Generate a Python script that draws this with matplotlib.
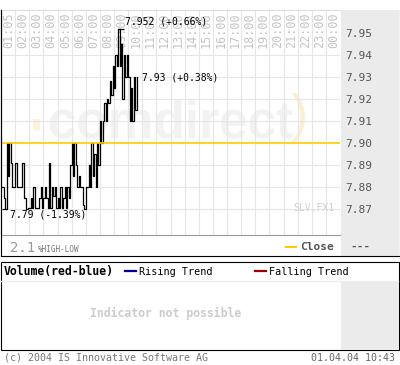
import numpy as np
import matplotlib
matplotlib.use('Agg')
import matplotlib.pyplot as plt
from matplotlib.patches import Rectangle
from matplotlib.lines import Line2D
import matplotlib.transforms as mtransforms

W, H = 400, 365
MONO = 'DejaVu Sans Mono'

# --- data ---
hour_labels = ['01:05', '02:00', '03:00', '04:00', '05:00', '06:00', '07:00', '08:00',
               '09:00', '10:00', '11:00', '12:00', '13:00', '14:00', '15:00', '16:00',
               '17:00', '18:00', '19:00', '20:00', '21:00', '22:00', '23:00', '00:00']
price_ticks = [7.87, 7.88, 7.89, 7.90, 7.91, 7.92, 7.93, 7.94, 7.95]
prev_close = 7.90

# ticks every 6 minutes from 01:05 onward (value on the drawn scale)
prices = [7.880, 7.875, 7.870, 7.900, 7.885, 7.900, 7.891, 7.880, 7.880, 7.891,
          7.880, 7.880, 7.880, 7.880, 7.891, 7.875, 7.875, 7.870, 7.8705, 7.8705,
          7.875, 7.8705, 7.880, 7.8705, 7.8705, 7.8705, 7.875, 7.880, 7.8705, 7.875,
          7.880, 7.875, 7.8705, 7.891, 7.8705, 7.880, 7.876, 7.880, 7.8705, 7.875,
          7.8705, 7.880, 7.8705, 7.875, 7.880, 7.8705, 7.880, 7.875, 7.890, 7.900,
          7.885, 7.900, 7.890, 7.880, 7.885, 7.880, 7.880, 7.872, 7.870, 7.880,
          7.880, 7.890, 7.880, 7.900, 7.885, 7.895, 7.880, 7.900, 7.890, 7.910,
          7.900, 7.910, 7.918, 7.910, 7.920, 7.918, 7.928, 7.922, 7.935, 7.925,
          7.940, 7.935, 7.952, 7.935, 7.945, 7.920, 7.940, 7.930, 7.940, 7.930,
          7.910, 7.925, 7.910, 7.930, 7.915, 7.930]
times = np.arange(1, len(prices) + 1) * 0.1  # in hour slots

high_text = '7.952 (+0.66%)'
close_text = '7.93 (+0.38%)'
low_text = '7.79 (-1.39%)'
spread_value = '2.1'
spread_name = '%HIGH-LOW'


def fx(x):
    return x / W


def fy(y):
    return 1 - y / H


fig = plt.figure(figsize=(W / 100, H / 100), dpi=100)
fig.patch.set_facecolor('white')

# grey right-hand panel of the price chart
fig.patches.append(Rectangle((fx(341), fy(256)), 58 / W, 246 / H, transform=fig.transFigure,
                             facecolor='#ebebeb', edgecolor='none', zorder=-1))

ax_top, ax_bot = 10, 235
ax = fig.add_axes([fx(1), fy(ax_bot), 339 / W, (ax_bot - ax_top) / H])
ax.set_zorder(1)
ax.set_facecolor('white')
ax.set_xlim(0, 24)
ax.set_ylim(prev_close - (ax_bot - 143) / 2200, prev_close + (143 - ax_top) / 2200)

for i in range(1, 24):
    ax.axvline(i, color='#e6e6e6', lw=0.8, zorder=1)
for v in price_ticks[:-1]:
    if v != prev_close:
        ax.axhline(v, color='#e6e6e6', lw=0.8, zorder=1)

ax.plot(times, prices, drawstyle='steps-post', color='black', lw=0.9, zorder=3)
ax.axhline(prev_close, color='#ffcc00', lw=1.2, zorder=4)

# high / low markers
i_hi = int(np.argmax(prices))
i_lo = int(np.argmin(prices))
ax.hlines(prices[i_hi], times[i_hi] - 0.05, times[i_hi] + 0.4, color='black', lw=0.9, zorder=3)
ax.hlines(prices[i_lo], times[i_lo] - 0.2, times[i_lo] + 0.15, color='black', lw=0.9, zorder=3)

ax.annotate(high_text, (times[i_hi], prices[i_hi]), xytext=(7, 7), textcoords='offset pixels',
            fontsize=7, family=MONO, va='center', ha='left', zorder=5)
ax.annotate(close_text, (times[-1], prices[-1]), xytext=(5, 0), textcoords='offset pixels',
            fontsize=7, family=MONO, va='center', ha='left', zorder=5)
ax.annotate(low_text, (times[i_lo], prices[i_lo]), xytext=(5, -5), textcoords='offset pixels',
            fontsize=7, family=MONO, va='center', ha='left', zorder=5)

# hour labels along the top
trans = mtransforms.blended_transform_factory(ax.transData, ax.transAxes)
for i, lab in enumerate(hour_labels):
    ax.text(i + 0.55, (ax_bot - 30) / (ax_bot - ax_top), lab, transform=trans, rotation=90,
            ha='center', va='center', fontsize=8.5, family=MONO, color='#c4c4c4', zorder=2)

# watermark
ax.text((48 - 1) / 339, (ax_bot - 138) / (ax_bot - ax_top), 'comdirect', transform=ax.transAxes,
        fontsize=37, family='Liberation Sans', weight='bold', color='#f2f2f2',
        ha='left', va='baseline', zorder=0.5)
ax.text((291 - 1) / 339, (ax_bot - 118) / (ax_bot - ax_top), ')', transform=ax.transAxes,
        fontsize=37, family='Liberation Sans', color='#fdefd2', ha='left', va='center', zorder=0.5)
ax.add_patch(Rectangle(((33 - 1) / 339, (ax_bot - 130) / (ax_bot - ax_top)), 7 / 339, 11 / 225,
                       transform=ax.transAxes, facecolor='#fdf2dc', edgecolor='none', zorder=0.5))

ax.text((334 - 1) / 339, (ax_bot - 208) / (ax_bot - ax_top), 'SLV.FX1', transform=ax.transAxes,
        fontsize=7, family=MONO, color='#cfcfcf', ha='right', va='center', zorder=2)

ax.set_xticks([])
ax.yaxis.tick_right()
ax.set_yticks(price_ticks)
ax.set_yticklabels(['%.2f' % v for v in price_ticks])
ax.tick_params(axis='y', length=0, pad=3.5, labelsize=8, labelcolor='#555555')
for t in ax.get_yticklabels():
    t.set_family(MONO)
ax.spines['right'].set_visible(False)
ax.spines['top'].set_color('#dddddd')
ax.spines['bottom'].set_color('#999999')
ax.spines['left'].set_color('black')

# main panel frame
for xs, ys in [([0.5, 0.5], [10, 256]), ([0.5, 399.5], [256, 256]), ([399.5, 399.5], [10, 256])]:
    fig.add_artist(Line2D([fx(v) for v in xs], [fy(v) for v in ys], color='black', lw=0.8))

# legend row of the price chart
fig.text(fx(10), fy(248), spread_value, fontsize=10, family=MONO, color='#999999', va='center')
fig.text(fx(38), fy(249), spread_name, fontsize=5.5, family=MONO, color='#777777', va='center')
fig.add_artist(Line2D([fx(286), fx(296)], [fy(247), fy(247)], color='#ffcc00', lw=1.5))
fig.text(fx(300), fy(247), 'Close', fontsize=8, family=MONO, weight='bold', color='#555555',
         va='center')
fig.text(fx(350), fy(247), '---', fontsize=8, family=MONO, weight='bold', color='#555555',
         va='center')

# volume panel
fig.patches.append(Rectangle((fx(0.5), fy(350)), 398.5 / W, 88 / H, transform=fig.transFigure,
                             facecolor='white', edgecolor='black', lw=0.8, zorder=1))
fig.patches.append(Rectangle((fx(341), fy(349.5)), 57.5 / W, 67.5 / H, transform=fig.transFigure,
                             facecolor='#ebebeb', edgecolor='none', zorder=2))
fig.add_artist(Line2D([fx(1), fx(398)], [fy(281), fy(281)], color='#eeeeee', lw=1.0))
fig.text(fx(4), fy(272), 'Volume(red-blue)', fontsize=8.3, family=MONO, weight='bold',
         color='black', va='center')
fig.add_artist(Line2D([fx(125), fx(136)], [fy(271), fy(271)], color='#000099', lw=1.6))
fig.text(fx(139), fy(272), 'Rising Trend', fontsize=7.3, family=MONO, color='black', va='center')
fig.add_artist(Line2D([fx(255), fx(266)], [fy(271), fy(271)], color='#990000', lw=1.6))
fig.text(fx(269), fy(272), 'Falling Trend', fontsize=7.3, family=MONO, color='black', va='center')
fig.text(fx(166), fy(313), 'Indicator not possible', fontsize=8.3, family=MONO, weight='bold',
         color='#cccccc', ha='center', va='center')

# footer
fig.text(fx(4), fy(358), '(c) 2004 IS Innovative Software AG', fontsize=7.2, family=MONO,
         color='#777777', va='center')
fig.text(fx(395), fy(358), '01.04.04 10:43', fontsize=7.2, family=MONO, color='#666666',
         ha='right', va='center')

fig.savefig('out.png', dpi=100)
